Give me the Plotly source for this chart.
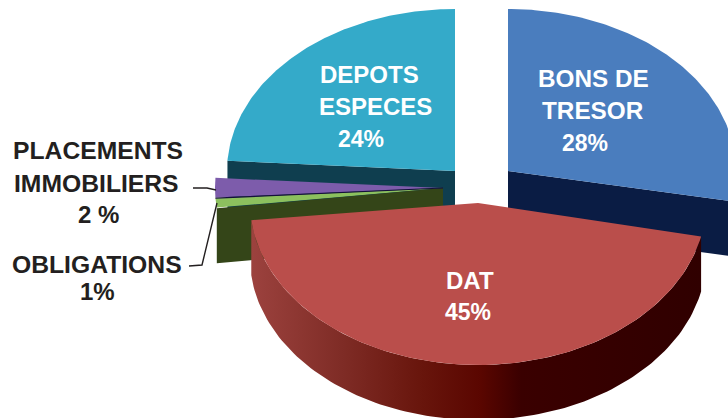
import numpy as np
import plotly.graph_objects as go

# Data
categories = ["BONS DE TRESOR", "DAT", "OBLIGATIONS", "PLACEMENTS IMMOBILIERS", "DEPOTS ESPECES"]
shares = [28, 45, 1, 2, 24]

# Pie geometry / style (pixels)
W, H = 728, 418
RX, RY, DEPTH = 228, 162, 55
centers = [(508, 171), (478, 203), (443, 188), (443, 188), (455, 171)]
turn = [0.0, np.radians(1.1), 0.0, 0.0, 0.0]
tops = ["#4A7DBE", "#BA4E4B", "#8CC05E", "#7D5CAB", "#34AAC9"]
faces = ["#0A1C44", None, "#344518", None, "#0F3E4F"]

ends = np.cumsum(shares) / sum(shares) * 2 * np.pi
starts = np.concatenate([[0], ends[:-1]])


def arc(c, a0, a1, dy=0, n=120):
    t = np.linspace(a0, a1, n)
    return c[0] + RX * np.sin(t), c[1] - RY * np.cos(t) + dy


def poly(fig, x, y, color=None, **kw):
    args = dict(fillcolor=color) if color else {}
    fig.add_trace(go.Scatter(x=x, y=y, mode="lines", fill="toself", line=dict(width=0),
                             hoverinfo="skip", showlegend=False, **args, **kw))


fig = go.Figure()


def cut_face(i, angle):
    c = centers[i]
    rx, ry = arc(c, angle, angle, n=1)
    poly(fig, [c[0], rx[0], rx[0], c[0]], [c[1], ry[0], ry[0] + DEPTH, c[1] + DEPTH], faces[i])


def top(i):
    c = centers[i]
    ax, ay = arc(c, starts[i] + turn[i], ends[i] + turn[i])
    poly(fig, np.r_[c[0], ax], np.r_[c[1], ay], tops[i])


# Back to front: deposits, real estate, bonds (obligations), treasury bills, term deposits
cut_face(4, starts[4])
top(4)
top(3)
top(2)
cut_face(2, starts[2])
# thin dark seam between the two small slices
sx, sy = arc(centers[3], starts[3], starts[3], n=1)
fig.add_trace(go.Scatter(x=[centers[3][0], sx[0]], y=[centers[3][1], sy[0]], mode="lines",
                         line=dict(color="#15103A", width=1.2), hoverinfo="skip", showlegend=False))

# Bonds: radial cut face and the short outer wall, then the top
cut_face(0, ends[0])
ox, oy = arc(centers[0], np.pi / 2, ends[0], n=30)
poly(fig, np.r_[ox, ox[::-1]], np.r_[oy, oy[::-1] + DEPTH], faces[0])
top(0)

# Term deposits: curved wall with a horizontal gradient, then the top
wx, wy = arc(centers[1], starts[1] + turn[1], ends[1] + turn[1])
poly(fig, np.r_[wx, wx[::-1]], np.r_[wy, wy[::-1] + DEPTH],
     fillgradient=dict(type="horizontal", colorscale=[
         [0.0, "#9C423E"], [0.20, "#7F2C26"], [0.38, "#68150C"], [0.51, "#5A0600"],
         [0.60, "#3A0000"], [1.0, "#300000"]]))
top(1)

# Leader lines
fig.add_trace(go.Scatter(x=[193, 207, 216], y=[188, 188, 190], mode="lines",
                         line=dict(color="#231F20", width=1.4), hoverinfo="skip", showlegend=False))
fig.add_trace(go.Scatter(x=[189, 202, 217], y=[266, 265, 203], mode="lines",
                         line=dict(color="#231F20", width=1.4), hoverinfo="skip", showlegend=False))

# Labels
label_text = ["DEPOTS", "ESPECES", "24%", "BONS DE", "TRESOR", "28%", "DAT", "45%",
              "PLACEMENTS", "IMMOBILIERS", "2 %", "OBLIGATIONS", "1%"]
label_pos = [(369, 74), (375, 106), (361, 139), (593, 78), (593, 110), (585, 143),
             (470, 280), (468, 312), (98, 150), (96.5, 183), (98, 214), (97, 264), (97, 291)]
label_col = ["white"] * 8 + ["#231F20"] * 5
label_size = [24, 24, 23, 24.3, 24.3, 23, 24, 23, 24.7, 24.7, 24, 24.7, 24]
for s, (x, y), col, fs in zip(label_text, label_pos, label_col, label_size):
    fig.add_annotation(x=x, y=y, text=f"<b>{s}</b>", showarrow=False, xanchor="center", yanchor="middle",
                       font=dict(family="Liberation Sans", size=fs, color=col))

fig.update_layout(width=W, height=H, margin=dict(l=0, r=0, t=0, b=0), paper_bgcolor="white",
                  plot_bgcolor="white", showlegend=False,
                  xaxis=dict(range=[0, W], visible=False, fixedrange=True),
                  yaxis=dict(range=[H, 0], visible=False, fixedrange=True))
fig.write_html("out.html", config=dict(displayModeBar=False),
               post_script="document.body.style.margin='0';document.documentElement.style.overflow='hidden';")
